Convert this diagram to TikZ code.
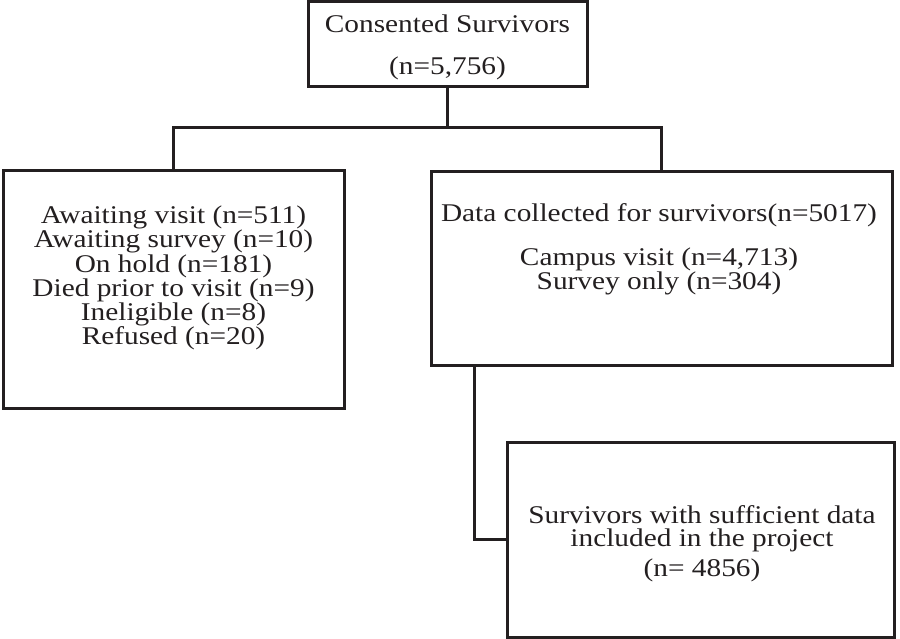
\documentclass[tikz,border=0pt]{standalone}
\usepackage{fontspec}
\setmainfont{Liberation Serif}[FakeStretch=1.15]
\definecolor{ink}{HTML}{231F20}
\newcommand\diagfont{\fontsize{25.5}{24.2}\selectfont\setlength{\lineskiplimit}{-30pt}\setlength{\lineskip}{0pt}}
\begin{document}
\begin{tikzpicture}[x=1pt,y=-1pt,
  box/.style={draw=ink,line width=3pt,rectangle,inner sep=0pt,outer sep=0pt},
  txt/.style={text=ink,align=center,inner sep=0pt,font=\diagfont},
  link/.style={draw=ink,line width=3pt}]
\useasboundingbox (0,0) rectangle (900,639);
\node[box,minimum width=279pt,minimum height=85.5pt] (top) at (447.5,44) {};
\node[box,minimum width=341pt,minimum height=237pt] (left) at (173.5,289.5) {};
\node[box,minimum width=461pt,minimum height=193pt] (right) at (661.5,268.5) {};
\node[box,minimum width=387pt,minimum height=195pt] (bottom) at (700.5,539.5) {};
\node[txt] (toptxt) at (447.5,47) {Consented Survivors\\[18pt](n=5,756)};
\node[txt] (lefttxt) at (173.5,278) {Awaiting visit (n=511)\\Awaiting survey (n=10)\\On hold (n=181)\\Died prior to visit (n=9)\\Ineligible (n=8)\\Refused (n=20)};
\node[txt] (righttxt) at (659,249) {Data collected for survivors(n=5017)\\[20pt]Campus visit (n=4,713)\\Survey only (n=304)};
\node[txt] (bottomtxt) at (702,543.5) {Survivors with sufficient data\\[-1pt]included in the project\\[6pt](n= 4856)};
\coordinate (split) at (top.south |- 0,128);
\draw[link] (top.south) -- (split);
\draw[link] (left.north) |- (split) -| (right.north);
\draw[link] ([xshift=43pt]right.south west) |- (bottom.west);
\end{tikzpicture}
\end{document}
